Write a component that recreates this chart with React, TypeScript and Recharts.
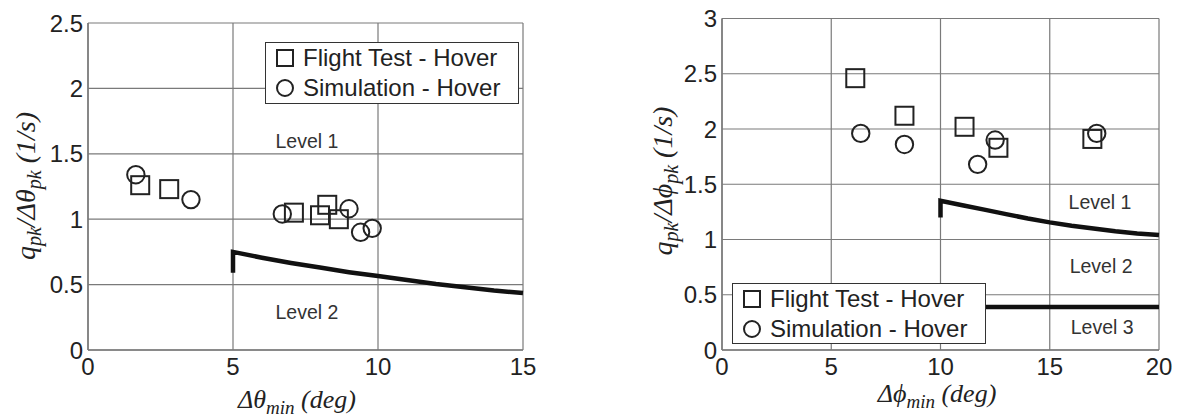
import React from 'react';
import { ScatterChart, Scatter, XAxis, YAxis, CartesianGrid } from 'recharts';

// pitch (left) panel
const pitchFlightX = [1.8, 2.8, 7.1, 8.0, 8.25, 8.65];
const pitchFlightY = [1.26, 1.23, 1.05, 1.03, 1.11, 1.0];
const pitchSimX = [1.65, 3.55, 6.7, 9.0, 9.4, 9.8];
const pitchSimY = [1.34, 1.15, 1.04, 1.08, 0.9, 0.93];
const pitchBoundX = [5, 5, 6, 7, 8, 9, 10, 11, 12, 13, 14, 15];
const pitchBoundY = [0.59, 0.75, 0.705, 0.665, 0.63, 0.595, 0.565, 0.535, 0.505, 0.48, 0.455, 0.435];
const pitchXTicks = [0, 5, 10, 15];
const pitchYTicks = [0, 0.5, 1, 1.5, 2, 2.5];
const pitchLevels = [
  { x: 7.55, y: 1.6, label: 'Level 1' },
  { x: 7.55, y: 0.29, label: 'Level 2' },
];

// roll (right) panel
const rollFlightX = [6.1, 8.35, 11.1, 12.65, 16.95];
const rollFlightY = [2.46, 2.12, 2.02, 1.83, 1.91];
const rollSimX = [6.35, 8.35, 11.7, 12.5, 17.15];
const rollSimY = [1.96, 1.86, 1.68, 1.9, 1.96];
const rollBound1X = [10, 10, 11, 12, 13, 14, 15, 16, 17, 18, 19, 20];
const rollBound1Y = [1.2, 1.35, 1.31, 1.27, 1.23, 1.19, 1.155, 1.125, 1.1, 1.075, 1.055, 1.04];
const rollBound2X = [10, 20];
const rollBound2Y = [0.39, 0.39];
const rollXTicks = [0, 5, 10, 15, 20];
const rollYTicks = [0, 0.5, 1, 1.5, 2, 2.5, 3];
const rollLevels = [
  { x: 17.3, y: 1.34, label: 'Level 1' },
  { x: 17.35, y: 0.76, label: 'Level 2' },
  { x: 17.4, y: 0.21, label: 'Level 3' },
];

const toPts = (xs: number[], ys: number[]) => xs.map((x, i) => ({ x, y: ys[i] }));

const SANS = '"Liberation Sans", Arial, Helvetica, sans-serif';
const SERIF = '"Liberation Serif", "Times New Roman", serif';
const INK = '#222';
const GRID = '#7a7a7a';

const squareShape = (p: any) => (
  <rect x={p.cx - 9} y={p.cy - 9} width={18} height={18} fill="none" stroke={INK} strokeWidth={2} />
);
const circleShape = (p: any) => (
  <circle cx={p.cx} cy={p.cy} r={8.7} fill="none" stroke={INK} strokeWidth={2} />
);
const noShape = () => <g />;
const levelShape = (p: any) => (
  <text x={p.cx} y={p.cy} textAnchor="middle" dominantBaseline="central" fontSize={19.5} fill="#333" fontFamily={SANS}>
    {p.payload.label}
  </text>
);

const tickStyle = { fontSize: 24, fill: INK, fontFamily: SANS };

function LegendBox({ left, top, height }: { left: number; top: number; height: number }) {
  const row = (icon: React.ReactNode, text: string) => (
    <div style={{ display: 'flex', alignItems: 'center', height: 30 }}>
      <svg width={20} height={20} style={{ marginRight: 8 }}>{icon}</svg>
      <span>{text}</span>
    </div>
  );
  return (
    <div
      style={{
        position: 'absolute', left, top, width: 254, height, boxSizing: 'border-box',
        border: '1.5px solid #333', background: '#fff', fontFamily: SANS, fontSize: 24,
        color: INK, padding: '0 0 0 9px', lineHeight: '24px',
      }}
    >
      {row(<rect x={2} y={2} width={16} height={16} fill="none" stroke={INK} strokeWidth={2} />, 'Flight Test - Hover')}
      {row(<circle cx={10} cy={10} r={8} fill="none" stroke={INK} strokeWidth={2} />, 'Simulation - Hover')}
    </div>
  );
}

function YTitle({ x, y, sym }: { x: number; y: number; sym: string }) {
  return (
    <div
      style={{
        position: 'absolute', left: x, top: y, transform: 'translate(-50%, -50%) rotate(-90deg)',
        whiteSpace: 'nowrap', fontFamily: SERIF, fontStyle: 'italic', fontSize: 28, color: INK,
      }}
    >
      q<sub style={{ fontSize: 20 }}>pk</sub>/Δ{sym}<sub style={{ fontSize: 20 }}>pk</sub> (1/s)
    </div>
  );
}

function XTitle({ x, y, sym }: { x: number; y: number; sym: string }) {
  return (
    <div
      style={{
        position: 'absolute', left: x, top: y, transform: 'translate(-50%, -50%)',
        whiteSpace: 'nowrap', fontFamily: SERIF, fontStyle: 'italic', fontSize: 26, color: INK,
      }}
    >
      Δ{sym}<sub style={{ fontSize: 19 }}>min</sub> (deg)
    </div>
  );
}

export default function App() {
  return (
    <div style={{ position: 'fixed', left: 0, top: 0, width: 1177, height: 419, background: '#fff', overflow: 'hidden' }}>
      <div style={{ position: 'absolute', left: 0, top: 0 }}>
        <ScatterChart width={560} height={419} margin={{ top: 23, right: 37, bottom: 0, left: 28 }}>
          <CartesianGrid stroke={GRID} strokeWidth={1.2} />
          <XAxis type="number" dataKey="x" domain={[0, 15]} ticks={pitchXTicks} height={69}
            tickLine={false} tickSize={0} tickMargin={8} axisLine={{ stroke: GRID, strokeWidth: 1.5 }} tick={tickStyle} />
          <YAxis type="number" dataKey="y" domain={[0, 2.5]} ticks={pitchYTicks} width={60}
            tickLine={false} tickSize={0} tickMargin={5} axisLine={{ stroke: GRID, strokeWidth: 1.5 }} tick={tickStyle} />
          <Scatter data={toPts(pitchBoundX, pitchBoundY)} line={{ stroke: '#111', strokeWidth: 4.5 }} shape={noShape} isAnimationActive={false} />
          <Scatter data={toPts(pitchFlightX, pitchFlightY)} shape={squareShape} isAnimationActive={false} />
          <Scatter data={toPts(pitchSimX, pitchSimY)} shape={circleShape} isAnimationActive={false} />
          <Scatter data={pitchLevels} shape={levelShape} isAnimationActive={false} />
        </ScatterChart>
      </div>
      <LegendBox left={265} top={42} height={62} />
      <YTitle x={28} y={186} sym="θ" />
      <XTitle x={297} y={402} sym="θ" />

      <div style={{ position: 'absolute', left: 600, top: 0 }}>
        <ScatterChart width={577} height={419} margin={{ top: 18.5, right: 18, bottom: 0, left: 62 }}>
          <CartesianGrid stroke={GRID} strokeWidth={1.2} />
          <XAxis type="number" dataKey="x" domain={[0, 20]} ticks={rollXTicks} height={69}
            tickLine={false} tickSize={0} tickMargin={8} axisLine={{ stroke: GRID, strokeWidth: 1.5 }} tick={tickStyle} />
          <YAxis type="number" dataKey="y" domain={[0, 3]} ticks={rollYTicks} width={60}
            tickLine={false} tickSize={0} tickMargin={5} axisLine={{ stroke: GRID, strokeWidth: 1.5 }} tick={tickStyle} />
          <Scatter data={toPts(rollBound1X, rollBound1Y)} line={{ stroke: '#111', strokeWidth: 4.5 }} shape={noShape} isAnimationActive={false} />
          <Scatter data={toPts(rollBound2X, rollBound2Y)} line={{ stroke: '#111', strokeWidth: 4.5 }} shape={noShape} isAnimationActive={false} />
          <Scatter data={toPts(rollFlightX, rollFlightY)} shape={squareShape} isAnimationActive={false} />
          <Scatter data={toPts(rollSimX, rollSimY)} shape={circleShape} isAnimationActive={false} />
          <Scatter data={rollLevels} shape={levelShape} isAnimationActive={false} />
        </ScatterChart>
      </div>
      <LegendBox left={732} top={283} height={61} />
      <YTitle x={665} y={181} sym="ϕ" />
      <XTitle x={937} y={396} sym="ϕ" />
    </div>
  );
}
